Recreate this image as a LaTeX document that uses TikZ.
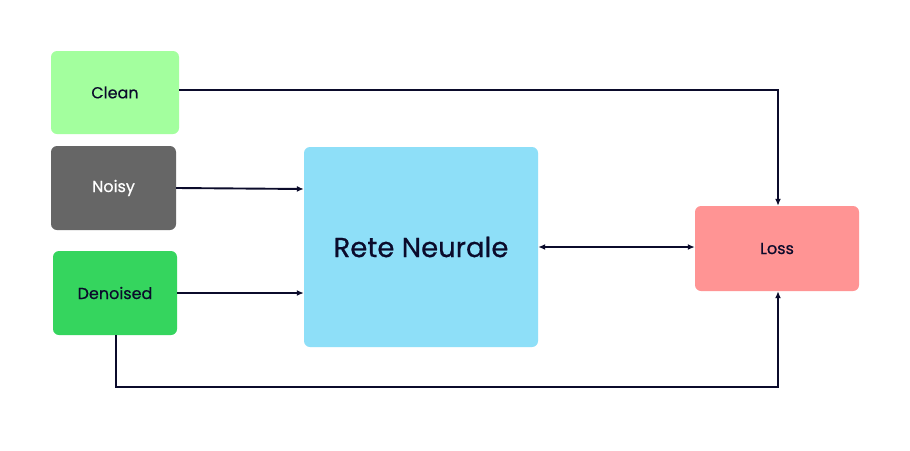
\documentclass[tikz,border=0pt]{standalone}
\usepackage{fontspec}
\setmainfont{Poppins}[FakeBold=0.6]
\usetikzlibrary{arrows.meta}
\definecolor{lnc}{HTML}{0B0B2B}
\definecolor{cleanc}{HTML}{A3FF9E}
\definecolor{noisyc}{HTML}{666666}
\definecolor{denc}{HTML}{35D55E}
\definecolor{netc}{HTML}{8EDFF8}
\definecolor{lossc}{HTML}{FF9494}
\begin{document}
\begin{tikzpicture}[x=1pt,y=-1pt,
  box/.style={rounded corners=6pt, inner sep=0pt, font=\fontsize{16}{19}\selectfont, text=lnc},
  conn/.style={draw=lnc, line width=1.9pt, -{Latex[length=7pt,width=6pt]}}]
\useasboundingbox[fill=white] (0,0) rectangle (910,450);
\node[box, fill=cleanc, minimum width=128pt, minimum height=83pt] (clean) at (115,92.5) {Clean};
\node[box, fill=noisyc, text=white, minimum width=125pt, minimum height=84pt] (noisy) at (113.5,188) {Noisy};
\node[box, fill=denc, minimum width=124pt, minimum height=84pt] (den) at (115,293) {Denoised};
\node[box, fill=netc, minimum width=234pt, minimum height=200pt, font=\fontsize{27.5}{32}\selectfont] (net) at (421,247) {Rete Neurale};
\node[box, fill=lossc, minimum width=164pt, minimum height=85pt] (loss) at (777,248.5) {Loss};
\coordinate (c1) at (778,90);
\coordinate (d1) at (116,387);
\coordinate (d2) at (778,387);
\draw[conn] (clean.east |- c1) -- (c1) -- (loss.north -| c1);
\draw[conn] (noisy.east) -- (net.west |- 0,189);
\draw[conn] (den.east) -- (net.west |- 0,293);
\draw[conn, {Latex[length=7pt,width=6pt]}-{Latex[length=7pt,width=6pt]}] (net.east |- 0,247) -- (loss.west |- 0,247);
\draw[conn] (den.south -| d1) -- (d1) -- (d2) -- (loss.south -| d2);
\end{tikzpicture}
\end{document}
